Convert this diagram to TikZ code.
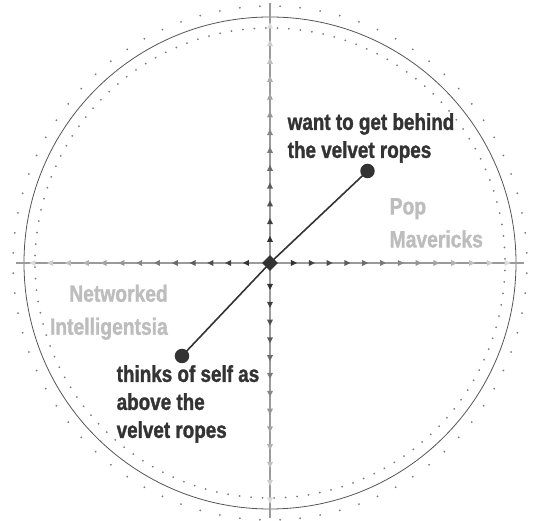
\documentclass[tikz,border=0pt]{standalone}
\usepackage{fontspec}
\usetikzlibrary{shapes.geometric}
\newfontfamily\narrowfont{Liberation Sans Bold}[FakeStretch=0.82,FakeBold=1.4]
\definecolor{ink}{HTML}{333333}
\definecolor{axisc}{HTML}{9A9A9A}
\definecolor{ringc}{HTML}{555555}
\definecolor{dotc}{HTML}{7A7A7A}
\definecolor{quadc}{HTML}{BDBDBD}

\begin{document}
\begin{tikzpicture}[x=1pt,y=1pt,
  quote/.style={ink,font=\narrowfont\fontsize{23}{28}\selectfont,inner sep=0pt},
  quad/.style={quadc,font=\narrowfont\fontsize{23.5}{33}\selectfont,inner sep=0pt},
  endpt/.style={circle,fill=ink,inner sep=0pt,minimum size=14.5pt}]
  \useasboundingbox (-270,-258) rectangle (263,263);

  % ring and the two dotted rings
  \draw[ringc,line width=0.8pt] (0,0) circle (246);
  \foreach \k in {0,...,79}
    \fill[dotc] ({2.25+4.5*\k}:257) circle (1);
  \foreach \k in {0,...,127}
    \fill[dotc] ({1+2.8125*\k}:235) circle (1);

  % axes, arrow marks fade outwards
  \draw[axisc,line width=1.2pt] (-254,0) -- (254,0);
  \draw[axisc,line width=1.2pt] (0,260) -- (0,-255);
  \foreach \i in {0,...,12}{
    \pgfmathsetmacro\r{24+17.8*\i}
    \pgfmathsetmacro\s{80-5.5*\i}
    \foreach \a in {0,90,180,270}
      \fill[black!\s,rotate=\a] (\r+3,0) -- (\r-3,3) -- (\r-3,-3) -- cycle;}
  \node[diamond,fill=ink,inner sep=0pt,minimum size=16pt] (origin) at (0,0) {};

  % the two positions
  \node[endpt] (behind) at (97.5,92) {};
  \node[endpt] (above) at (-88,-93) {};
  \draw[ink,line width=1.6pt] (above.center) -- (origin.center) -- (behind.center);

  \node[quote,anchor=north west,align=left] (wanttxt) at (17.5,150)
       {want to get behind\\the velvet ropes};
  \node[quote,anchor=north west,align=left] (thinkstxt) at (-153.5,-102)
       {thinks of self as\\above the\\velvet ropes};

  % quadrant names
  \node[quad,anchor=north west,align=left] (poptxt) at (119.5,65) {Pop\\Mavericks};
  \node[quad,anchor=north east,align=right] (nettxt) at (-102,-21.5)
       {Networked\\Intelligentsia};
\end{tikzpicture}
\end{document}
